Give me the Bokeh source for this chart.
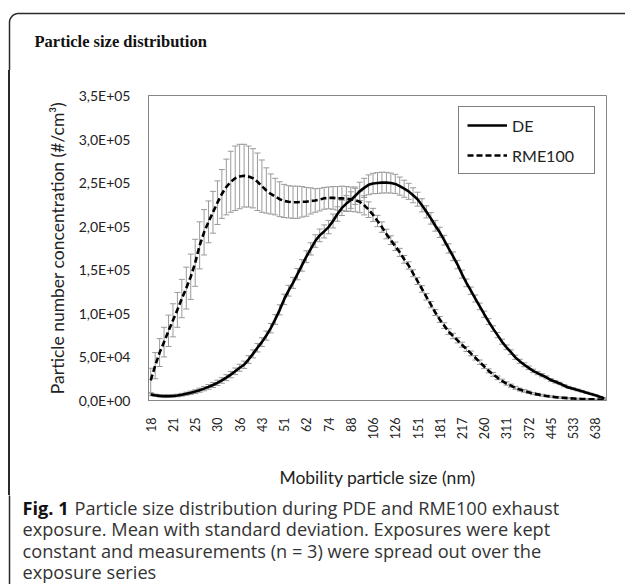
import math
from bokeh.plotting import figure
from bokeh.layouts import column, row
from bokeh.models import (Range1d, FixedTicker, ColumnDataSource, Whisker, TeeHead,
                          Legend, LegendItem, Div)
from bokeh.core.properties import value
from bokeh.embed import file_html
from bokeh.resources import INLINE

# ---------------- data ----------------
# tick labels of the mobility size axis: one label every 5th size channel
size_labels = ["18", "21", "25", "30", "36", "43", "51", "62", "74", "88", "106",
               "126", "151", "181", "217", "260", "311", "372", "445", "533", "638"]
label_every = 5

# mean particle number concentration (#/cm3) and SD per size channel
de_mean = [6900, 6000, 5300, 5000, 5000, 5200, 5800, 6600, 7700, 8800,
           10200, 11800, 13600, 15600, 17800, 20300, 23000, 26200, 29700, 33500,
           37600, 41000, 47000, 53500, 60500, 67000, 74500, 83000, 93000, 104000,
           116000, 126000, 135000, 145000, 155000, 165000, 174000, 183000, 189500, 194000,
           199000, 206000, 214000, 221000, 226000, 230000, 235000, 240000, 244000, 247500,
           249000, 249500, 250000, 250000, 249500, 248500, 246000, 243000, 240000, 235500,
           231000, 224000, 216500, 209000, 200500, 193000, 184000, 174500, 165500, 156000,
           145000, 135000, 126000, 117000, 108000, 99000, 90500, 82500, 75000, 67500,
           61000, 55500, 49500, 45000, 41000, 37500, 34000, 31500, 29000, 26500,
           23500, 21500, 19500, 17000, 15000, 13500, 12000, 10500, 9000, 7500,
           6000, 4200, 2700]
de_sd = [1500, 1400, 1300, 1300, 1300, 1400, 1500, 1600, 1800, 2000,
         2100, 2300, 2500, 2700, 2900, 3000, 3200, 3400, 3600, 3800,
         4000, 4200, 4400, 4600, 4800, 5000, 5200, 5400, 5600, 5800,
         6000, 6200, 6300, 6500, 6600, 6800, 7000, 7200, 7300, 7500,
         7700, 8000, 8300, 8700, 9100, 9500, 10000, 10500, 11000, 11400,
         11700, 12000, 12000, 11800, 11500, 11000, 10400, 9800, 9200, 8600,
         8000, 7500, 7000, 6600, 6200, 5900, 5600, 5300, 5000, 4800,
         4600, 4400, 4200, 4000, 3800, 3600, 3400, 3200, 3000, 2900,
         2700, 2600, 2500, 2300, 2200, 2100, 2000, 1900, 1800, 1700,
         1600, 1500, 1400, 1300, 1200, 1100, 1000, 900, 800, 700,
         600, 500, 400]
rme_mean = [23000, 40000, 55000, 67000, 80000, 92000, 104000, 117000, 129000, 142000,
            158000, 178000, 193000, 205000, 216000, 227000, 237000, 245000, 251000, 255000,
            257000, 258000, 257000, 255000, 251000, 246000, 241000, 237000, 234000, 231000,
            229000, 228000, 227500, 227500, 228000, 228000, 229000, 229500, 230500, 232000,
            232500, 232500, 232000, 232000, 231500, 231000, 230000, 228000, 224000, 219000,
            213000, 206000, 199000, 191000, 184000, 177000, 170000, 162000, 155000, 146000,
            137000, 128000, 119000, 110000, 101000, 93000, 86000, 79000, 74000, 69000,
            64000, 59000, 54000, 49000, 44000, 39000, 34000, 30000, 26000, 22500,
            19500, 17000, 14500, 12500, 11000, 9500, 8000, 7000, 6000, 5200,
            4500, 3900, 3400, 3000, 2600, 2300, 2000, 1800, 1600, 1400,
            1200, 1000, 900]
rme_sd = [14000, 15000, 16000, 17000, 18000, 19000, 20000, 22000, 24000, 26000,
          27000, 27000, 26000, 24000, 24000, 25000, 28000, 32000, 35000, 37000,
          37000, 36000, 35000, 34000, 33000, 30000, 26000, 23000, 21000, 20000,
          19000, 18500, 18500, 18500, 17500, 16500, 15000, 13500, 13000, 12500,
          12500, 13000, 13500, 14000, 14000, 14000, 13500, 12500, 11000, 9000,
          7500, 6500, 6000, 5500, 5000, 4800, 4600, 4400, 4200, 4000,
          3900, 3800, 3700, 3600, 3500, 3400, 3300, 3200, 3100, 3000,
          2900, 2800, 2700, 2600, 2500, 2400, 2300, 2200, 2100, 2000,
          1900, 1800, 1700, 1600, 1500, 1400, 1300, 1200, 1100, 1000,
          900, 800, 800, 700, 700, 600, 600, 500, 500, 500,
          400, 400, 400]

y_ticks = [0, 50000, 100000, 150000, 200000, 250000, 300000, 350000]
y_tick_labels = ["0,0E+00", "5,0E+04", "1,0E+05", "1,5E+05", "2,0E+05",
                 "2,5E+05", "3,0E+05", "3,5E+05"]

series_names = ["DE", "RME100"]
panel_title = "Particle size distribution"
x_title = "Mobility particle size (nm)"
y_title = "Particle number concentration (#/cm³)"
caption_head = "Fig. 1"
caption_first = "Particle size distribution during PDE and RME100 exhaust"
caption_rest = ["exposure. Mean with standard deviation. Exposures were kept",
                "constant and measurements (n = 3) were spread out over the",
                "exposure series"]

# ---------------- page geometry ----------------
PAGE_W, PAGE_H = 625, 584
TOP_H = 70          # title band
CAP_H = 89          # caption band
MAIN_H = PAGE_H - TOP_H - CAP_H
STRIP_W = 12        # narrow strip that carries the panel's left border
BX, BY, BR = 9, 13, 9   # panel border: left x, top y, corner radius
BORDER_COLOR = "#2a2a2a"
BORDER = dict(line_color=BORDER_COLOR, line_width=1.5)
AX_FONT = "Lato"
CAP_FONT = "Open Sans"
CAP_SIZE = "18.2px"
GRAY = "#868686"


def blank(w, h, y_top, y_bot):
    """A figure whose frame is the whole canvas, in page pixel coordinates."""
    f = figure(width=w, height=h, output_backend="svg", toolbar_location=None,
               x_range=Range1d(0, w), y_range=Range1d(y_bot, y_top),
               x_axis_location=None, y_axis_location=None,
               min_border=0, min_border_left=0, min_border_right=0,
               min_border_top=0, min_border_bottom=0)
    f.outline_line_color = None
    f.grid.visible = False
    f.background_fill_color = "white"
    f.border_fill_color = "white"
    return f


# --- title band with the rounded top-left corner of the panel border ---
top = blank(PAGE_W, TOP_H, 0, TOP_H)
arc = [k * math.pi / 40 for k in range(21)]
bx = [BX, BX] + [BX + BR - BR * math.cos(t) for t in arc] + [PAGE_W + 5]
by = [TOP_H + 2, BY + BR] + [BY + BR - BR * math.sin(t) for t in arc] + [BY]
top.line(bx, by, **BORDER)
top.text(x=[34], y=[41], text=[panel_title], text_font=value("Liberation Serif"),
         text_font_style="bold", text_font_size="16.5px", text_baseline="middle",
         text_color="#111111")

# --- left strip carrying the border line beside the chart ---
strip = Div(text="", width=STRIP_W, height=MAIN_H, margin=0,
            styles={"padding": "0px",
                    "background-image":
                        f"linear-gradient(to right, #ffffff {BX - 0.75}px, "
                        f"{BORDER_COLOR} {BX - 0.75}px, {BORDER_COLOR} {BX + 0.75}px, "
                        f"#ffffff {BX + 0.75}px)"})

# --- main chart ---
n = len(de_mean)
channel = list(range(n))
main_w = PAGE_W - STRIP_W
p = figure(width=main_w, height=MAIN_H, output_backend="svg", toolbar_location=None,
           x_range=Range1d(-0.5, n - 0.5), y_range=Range1d(0, 350000),
           min_border_left=148 - STRIP_W, min_border_right=PAGE_W - 606,
           min_border_top=95 - TOP_H, min_border_bottom=TOP_H + MAIN_H - 400)
p.background_fill_color = "white"
p.border_fill_color = "white"
p.outline_line_color = GRAY
p.outline_line_width = 1
p.grid.visible = False

xa = p.xaxis[0]
xa.ticker = FixedTicker(ticks=[i * label_every for i in range(len(size_labels))])
xa.major_label_overrides = {i * label_every: lab for i, lab in enumerate(size_labels)}
xa.major_label_orientation = math.pi / 2
xa.major_label_text_font = AX_FONT
xa.major_label_text_font_size = "12.5px"
xa.major_label_text_color = "#222222"
xa.major_label_standoff = 11
xa.major_tick_line_color = None
xa.minor_tick_line_color = None
xa.axis_line_color = GRAY
xa.axis_label = x_title
xa.axis_label_text_font = AX_FONT
xa.axis_label_text_font_size = "17.5px"
xa.axis_label_text_font_style = "normal"
xa.axis_label_text_color = "#222222"
xa.axis_label_standoff = 25

ya = p.yaxis[0]
ya.ticker = FixedTicker(ticks=y_ticks)
ya.major_label_overrides = {t: lab for t, lab in zip(y_ticks, y_tick_labels)}
ya.major_label_text_font = AX_FONT
ya.major_label_text_font_size = "14px"
ya.major_label_text_color = "#222222"
ya.major_label_standoff = 12
ya.major_tick_line_color = None
ya.minor_tick_line_color = None
ya.axis_line_color = GRAY
ya.axis_label = y_title
ya.axis_label_text_font = AX_FONT
ya.axis_label_text_font_size = "17.5px"
ya.axis_label_text_font_style = "normal"
ya.axis_label_text_color = "#222222"
ya.axis_label_standoff = 8

EB = "#9a9a9a"
for mean, sd in ((de_mean, de_sd), (rme_mean, rme_sd)):
    src = ColumnDataSource(dict(x=channel,
                                lo=[m - s for m, s in zip(mean, sd)],
                                hi=[m + s for m, s in zip(mean, sd)]))
    p.add_layout(Whisker(source=src, base="x", lower="lo", upper="hi",
                         line_color=EB, line_width=1,
                         lower_head=TeeHead(size=6, line_color=EB, line_width=1),
                         upper_head=TeeHead(size=6, line_color=EB, line_width=1)))

r_de = p.line(channel, de_mean, line_color="black", line_width=2.6)
r_rme = p.line(channel, rme_mean, line_color="black", line_width=2.6, line_dash="6 3")

legend = Legend(items=[LegendItem(label=series_names[0], renderers=[r_de]),
                       LegendItem(label=series_names[1], renderers=[r_rme])],
                location="top_right", margin=11, padding=8, spacing=10,
                glyph_width=40, glyph_height=20, label_height=20, label_width=74,
                label_standoff=5, border_line_color="black", border_line_width=1,
                label_text_font=AX_FONT, label_text_font_size="16px",
                label_text_color="#222222", background_fill_color="white")
p.add_layout(legend)

# --- caption band ---
cap = blank(PAGE_W, CAP_H, TOP_H + MAIN_H, PAGE_H)
cap.line([BX, BX], [TOP_H + MAIN_H - 2, PAGE_H + 2], **BORDER)
cap_y = [507, 528, 550, 571]
cap.text(x=[22], y=[cap_y[0]], text=[caption_head], text_font=value(CAP_FONT),
         text_font_style="bold", text_font_size=CAP_SIZE, text_baseline="middle",
         text_color="#111111")
cap.text(x=[74], y=[cap_y[0]], text=[caption_first], text_font=value(CAP_FONT),
         text_font_size=CAP_SIZE, text_baseline="middle", text_color="#333333")
cap.text(x=[22] * len(caption_rest), y=cap_y[1:], text=caption_rest,
         text_font=value(CAP_FONT), text_font_size=CAP_SIZE, text_baseline="middle",
         text_color="#333333")

layout = column(top, row(strip, p), cap)
open("out.html", "w").write(file_html(layout, INLINE))
